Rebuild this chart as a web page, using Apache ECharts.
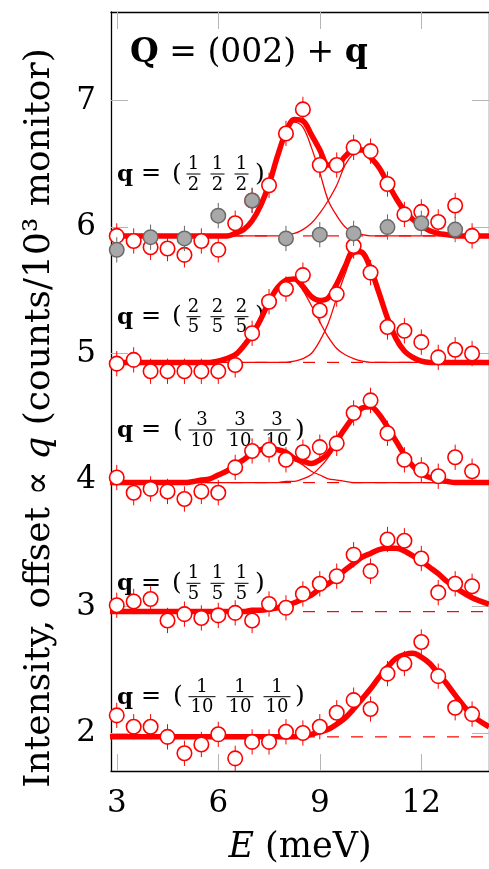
<!DOCTYPE html>
<html><head><meta charset="utf-8">
<script src="https://cdn.jsdelivr.net/npm/echarts@6/dist/echarts.min.js"></script>
<style>html,body{margin:0;padding:0;background:#fff;}#c{width:489px;height:869px;}</style>
</head><body><div id="c"></div>
<script>
// ---------- data ----------
const energyPoints = [3,3.5,4,4.5,5,5.5,6,6.5,7,7.5,8,8.5,9,9.5,10,10.5,11,11.5,12,12.5,13,13.5];
const dataHalf = [5.93,5.89,5.84,5.83,5.78,5.89,5.82,6.03,6.21,6.33,6.74,6.93,6.49,6.49,6.63,6.60,6.34,6.10,6.12,6.04,6.17,5.93];
const dataTwoFifths = [4.92,4.95,4.86,4.86,4.86,4.86,4.86,4.91,5.16,5.41,5.51,5.62,5.34,5.47,5.85,5.64,5.21,5.18,5.09,4.97,5.03,5.00];
const dataThreeTenths = [4.02,3.90,3.93,3.91,3.85,3.91,3.90,4.10,4.23,4.24,4.16,4.22,4.26,4.29,4.53,4.63,4.37,4.16,4.08,4.03,4.18,4.07];
const dataOneFifth = [3.01,3.04,3.06,2.89,2.94,2.91,2.93,2.95,2.89,3.02,2.99,3.10,3.18,3.24,3.41,3.28,3.53,3.52,3.38,3.11,3.18,3.16];
const dataOneTenth = [2.14,2.05,2.05,1.97,1.84,1.91,1.99,1.80,1.93,1.93,2.01,2.00,2.05,2.16,2.26,2.19,2.47,2.55,2.72,2.45,2.20,2.15];
const grayEnergy = [3,4,5,6,7,8,9,10,11,12,13];
const grayHalf = [5.82,5.92,5.91,6.09,6.21,5.91,5.94,5.95,6.00,6.03,5.98];
const errRed = 0.1;
const errGray = 0.1;

// fitted curves, sampled on fitE
const fitE = [2.8,3,3.5,4,4.5,5,5.5,5.75,6,6.25,6.5,6.75,7,7.25,7.5,7.75,8,8.25,8.5,8.75,9,9.25,9.5,9.75,10,10.25,10.5,10.75,11,11.25,11.5,11.75,12,12.25,12.5,12.75,13,13.5,14];
const fitHalfTotal = [5.93,5.93,5.93,5.93,5.93,5.93,5.93,5.93,5.93,5.93,5.95,5.98,6.05,6.17,6.34,6.56,6.75,6.85,6.84,6.73,6.61,6.49,6.49,6.56,6.61,6.61,6.55,6.47,6.35,6.23,6.13,6.06,6.01,5.97,5.95,5.94,5.93,5.93,5.93];
const fitHalfA = [5.93,5.93,5.93,5.93,5.93,5.93,5.93,5.93,5.93,5.93,5.95,5.98,6.05,6.17,6.34,6.55,6.74,6.83,6.79,6.63,6.43,6.21,6.09,6.00,5.96,5.94,5.93,5.93,5.93,5.93,5.93,5.93,5.93,5.93,5.93,5.93,5.93,5.93,5.93];
const fitHalfB = [5.93,5.93,5.93,5.93,5.93,5.93,5.93,5.93,5.93,5.93,5.93,5.93,5.93,5.93,5.93,5.93,5.94,5.95,5.98,6.03,6.11,6.21,6.33,6.49,6.58,6.60,6.55,6.47,6.35,6.23,6.13,6.06,6.01,5.97,5.95,5.94,5.93,5.93,5.93];
const fitTwoFifthsTotal = [4.93,4.93,4.93,4.93,4.93,4.93,4.93,4.93,4.94,4.96,4.99,5.06,5.15,5.27,5.41,5.52,5.58,5.59,5.53,5.45,5.42,5.44,5.55,5.69,5.81,5.80,5.67,5.48,5.28,5.12,5.02,4.97,4.94,4.93,4.93,4.93,4.93,4.93,4.93];
const fitTwoFifthsA = [4.93,4.93,4.93,4.93,4.93,4.93,4.93,4.93,4.94,4.96,4.99,5.06,5.15,5.27,5.41,5.52,5.58,5.58,5.50,5.38,5.25,5.13,5.04,4.99,4.96,4.94,4.93,4.93,4.93,4.93,4.93,4.93,4.93,4.93,4.93,4.93,4.93,4.93,4.93];
const fitTwoFifthsB = [4.93,4.93,4.93,4.93,4.93,4.93,4.93,4.93,4.93,4.93,4.93,4.93,4.93,4.93,4.93,4.93,4.93,4.94,4.96,5.00,5.10,5.24,5.44,5.63,5.78,5.79,5.67,5.48,5.28,5.12,5.02,4.97,4.94,4.93,4.93,4.93,4.93,4.93,4.93];
const fitThreeTenthsTotal = [3.98,3.98,3.98,3.98,3.98,3.98,4.00,4.01,4.04,4.07,4.12,4.16,4.21,4.24,4.25,4.24,4.22,4.17,4.15,4.13,4.16,4.21,4.31,4.41,4.50,4.57,4.58,4.52,4.42,4.31,4.20,4.11,4.05,4.02,4.00,3.99,3.98,3.98,3.98];
const fitThreeTenthsA = [3.98,3.98,3.98,3.98,3.98,3.98,4.00,4.01,4.04,4.07,4.12,4.16,4.21,4.24,4.25,4.24,4.21,4.16,4.12,4.07,4.04,4.01,4.00,3.99,3.98,3.98,3.98,3.98,3.98,3.98,3.98,3.98,3.98,3.98,3.98,3.98,3.98,3.98,3.98];
const fitThreeTenthsB = [3.98,3.98,3.98,3.98,3.98,3.98,3.98,3.98,3.98,3.98,3.98,3.98,3.98,3.98,3.98,3.98,3.99,3.99,4.01,4.04,4.10,4.18,4.29,4.40,4.50,4.57,4.58,4.52,4.42,4.31,4.20,4.11,4.05,4.02,3.99,3.99,3.98,3.98,3.98];
const fitOneFifth = [2.96,2.96,2.96,2.96,2.96,2.96,2.96,2.96,2.96,2.96,2.96,2.96,2.97,2.97,2.98,2.99,3.01,3.03,3.06,3.09,3.14,3.18,3.23,3.29,3.34,3.39,3.42,3.45,3.46,3.46,3.44,3.40,3.36,3.31,3.26,3.20,3.15,3.07,3.02];
const fitOneTenth = [1.97,1.97,1.97,1.97,1.97,1.97,1.97,1.97,1.97,1.97,1.97,1.97,1.97,1.97,1.97,1.97,1.97,1.97,1.98,1.99,2.01,2.03,2.07,2.12,2.19,2.27,2.35,2.44,2.52,2.59,2.62,2.63,2.60,2.55,2.47,2.39,2.30,2.14,2.05];
const baselines = [5.93,4.93,3.98,2.96,1.97];

const xTicks = [3,6,9,12];
const yTicks = [2,3,4,5,6,7];
const xRange = [2.83,14];
const yRange = [1.7,7.7];

const qLabels = [
  {num:['1','1','1'], den:['2','2','2']},
  {num:['2','2','2'], den:['5','5','5']},
  {num:['3','3','3'], den:['10','10','10']},
  {num:['1','1','1'], den:['5','5','5']},
  {num:['1','1','1'], den:['10','10','10']}
];
const titleText = '{b|Q} = (002) + {b|q}';
const yTitle = 'Intensity, offset ∝ {i|q} (counts/10³ monitor)';
const xTitle = '{i|E} (meV)';

// ---------- build ----------
const RED = '#ff0000';
const FONT = 'DejaVu Serif';
const zip = (xs, ys) => xs.map((x, i) => [x, ys[i]]);

const series = [];
baselines.forEach(b => series.push({
  type:'line', data:[[xRange[0], b],[xRange[1], b]], symbol:'none', silent:true, z:1,
  lineStyle:{color:RED, width:1.2, type:[12,12]}
}));
[fitHalfA, fitHalfB, fitTwoFifthsA, fitTwoFifthsB, fitThreeTenthsA, fitThreeTenthsB].forEach(v => series.push({
  type:'line', data:zip(fitE, v), smooth:0.35, symbol:'none', silent:true, z:2,
  lineStyle:{color:RED, width:1.3}
}));
[fitHalfTotal, fitTwoFifthsTotal, fitThreeTenthsTotal, fitOneFifth, fitOneTenth].forEach(v => series.push({
  type:'line', data:zip(fitE, v), smooth:0.35, symbol:'none', silent:true, z:3,
  lineStyle:{color:RED, width:5.5}
}));
function errRender(color){
  return function(params, api){
    const x = api.value(0), y = api.value(1), e = api.value(2);
    const p1 = api.coord([x, y - e]), p2 = api.coord([x, y + e]);
    return {type:'line', shape:{x1:p1[0], y1:p1[1], x2:p2[0], y2:p2[1]}, style:{stroke:color, lineWidth:1}};
  };
}
const redGroups = [dataHalf, dataTwoFifths, dataThreeTenths, dataOneFifth, dataOneTenth];
const redPts = [];
redGroups.forEach(g => energyPoints.forEach((e, i) => redPts.push([e, g[i], errRed])));
const grayPts = grayEnergy.map((e, i) => [e, grayHalf[i], errGray]);
series.push({type:'custom', renderItem:errRender(RED), data:redPts, encode:{x:0,y:1}, z:4, silent:true});
series.push({type:'scatter', data:redPts.map(p => [p[0], p[1]]), symbol:'circle', symbolSize:14.5, z:5, silent:true,
  itemStyle:{color:'#ffffff', borderColor:RED, borderWidth:1.6, opacity:1}});
series.push({type:'custom', renderItem:errRender('#666666'), data:grayPts, encode:{x:0,y:1}, z:6, silent:true});
series.push({type:'scatter', data:grayPts.map(p => [p[0], p[1]]), symbol:'circle', symbolSize:14.5, z:7, silent:true,
  itemStyle:{color:'#a8a8a8', borderColor:'#6a6a6a', borderWidth:1.5, opacity:1}});

const tickStyle = {inside:true, length:17, lineStyle:{color:'#b5b5b5', width:1}};
const axisLine = {show:true, lineStyle:{color:'#000', width:1.3}};
const labelStyle = {fontSize:31, fontFamily:FONT, color:'#000'};

// q labels as text graphics
const barYs = [174, 316.7, 430, 583.3, 696.7];
const graphics = [];
qLabels.forEach((lab, k) => {
  const y = barYs[k];
  const wide = lab.den[0].length > 1;
  const centers = wide ? [202, 240, 277] : [193.5, 217.5, 241.5];
  const bw = wide ? 27 : 14;
  const closeX = wide ? 300 : 260;
  const ch = [];
  ch.push({type:'text', x:117, y:y+1, style:{text:'q', fontSize:23, fontWeight:'bold', fontFamily:FONT, fill:'#000', align:'left', verticalAlign:'middle'}});
  ch.push({type:'text', x:151, y:y, style:{text:'=', fontSize:24, fontFamily:FONT, fill:'#000', align:'center', verticalAlign:'middle'}});
  ch.push({type:'text', x:wide ? 178 : 177, y:y, style:{text:'(', fontSize:25, fontFamily:FONT, fill:'#000', align:'center', verticalAlign:'middle'}});
  ch.push({type:'text', x:closeX, y:y, style:{text:')', fontSize:25, fontFamily:FONT, fill:'#000', align:'center', verticalAlign:'middle'}});
  centers.forEach((cx, j) => {
    ch.push({type:'text', x:cx, y:y-9.5, style:{text:lab.num[j], fontSize:18, fontFamily:FONT, fill:'#000', align:'center', verticalAlign:'middle'}});
    ch.push({type:'text', x:cx, y:y+11, style:{text:lab.den[j], fontSize:18, fontFamily:FONT, fill:'#000', align:'center', verticalAlign:'middle'}});
    ch.push({type:'line', shape:{x1:cx-bw/2, y1:y, x2:cx+bw/2, y2:y}, style:{stroke:'#000', lineWidth:1}});
  });
  graphics.push({type:'group', z:20, children:ch});
});
graphics.push({type:'text', x:130, y:53, z:20, style:{text:titleText, fontSize:33, fontFamily:FONT, fill:'#000', align:'left', verticalAlign:'middle',
  rich:{b:{fontSize:33, fontFamily:FONT, fontWeight:'bold', fill:'#000'}}}});
graphics.push({type:'text', x:40, y:418, rotation:Math.PI/2, z:20, style:{text:yTitle, fontSize:36, fontFamily:FONT, fill:'#000', align:'center', verticalAlign:'middle',
  rich:{i:{fontSize:36, fontFamily:FONT, fontStyle:'italic', fill:'#000'}}}});
graphics.push({type:'text', x:300, y:848, z:20, style:{text:xTitle, fontSize:35, fontFamily:FONT, fill:'#000', align:'center', verticalAlign:'middle',
  rich:{i:{fontSize:35, fontFamily:FONT, fontStyle:'italic', fill:'#000'}}}});

const chart = echarts.init(document.getElementById('c'), null, {renderer:'canvas'});
chart.setOption({
  animation:false,
  backgroundColor:'#fff',
  grid:{left:111, top:12, width:380, height:759, containLabel:false},
  xAxis:[
    {type:'value', min:xRange[0], max:xRange[1], position:'bottom', axisLine, splitLine:{show:false},
     axisTick:Object.assign({customValues:xTicks}, tickStyle),
     axisLabel:Object.assign({customValues:xTicks, margin:17}, labelStyle)},
    {type:'value', min:xRange[0], max:xRange[1], position:'top', axisLine, splitLine:{show:false},
     axisTick:Object.assign({customValues:xTicks}, tickStyle), axisLabel:{show:false}}
  ],
  yAxis:[
    {type:'value', min:yRange[0], max:yRange[1], position:'left', axisLine, splitLine:{show:false},
     axisTick:Object.assign({customValues:yTicks}, tickStyle),
     axisLabel:Object.assign({customValues:yTicks, margin:15}, labelStyle)},
    {type:'value', min:yRange[0], max:yRange[1], position:'right', axisLine, splitLine:{show:false},
     axisTick:Object.assign({customValues:yTicks}, tickStyle), axisLabel:{show:false}}
  ],
  series,
  graphic:graphics
});
</script></body></html>
